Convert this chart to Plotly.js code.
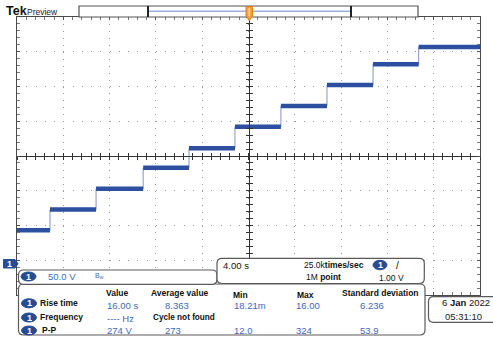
<!DOCTYPE html>
<html><head><meta charset="utf-8">
<script src="https://cdn.plot.ly/plotly-3.0.1.min.js"></script>
<style>html,body{margin:0;padding:0;background:#fff;}#chart{width:493px;height:338px;}</style>
</head><body><div id="chart"></div>
<script>
const stepTimes = [-20, -17.15, -13.17, -9.10, -5.14, -1.17, 2.80, 6.78, 10.76, 14.70, 20]; // s
const stepLevels = [48, 78, 108, 138, 166, 197, 227, 257, 287, 312];                          // V
const timeRange = [-20, 20];   // 4.00 s/div, 10 div
const voltRange = [-45, 355];  // 50.0 V/div, 8 div
const voltCenter = 155;
const measHeaders = ['Value', 'Average value', 'Min', 'Max', 'Standard deviation'];
const measNames = ['Rise time', 'Frequency', 'P-P'];
const riseRow = ['16.00 s', '8.363', '18.21m', '16.00', '6.236'];
const freqRow = ['---- Hz', 'Cycle not found'];
const ppRow = ['274 V', '273', '12.0', '324', '53.9'];
const chScale = '50.0 V';
const timeScale = '4.00 s';
const sampleRate = '25.0k<b>times/sec</b>';
const recordLen = '1M <b>point</b>';
const trigLevel = '1.00 V';
const dateText = '6 <b>Jan</b> 2022';
const timeText = '05:31:10';

// ---- geometry helpers (layout decorations only) ----
const L = 17, R = 480, T = 17, B = 295;
const PW = R - L, PH = B - T;
const px = x => (x - L) / PW;
const py = y => (B - y) / PH;
const FONT = 'Liberation Sans, Arial, sans-serif';
const BLUE = '#4169b8', BADGE = '#284c93', EDGE = '#5a5a5a';

function rrect(x0, y0, x1, y1, r, fill, line) {
  const a = px(x0), b = px(x1), c = py(y0), d = py(y1);
  const rx = r / PW, ry = r / PH;
  const p = `M${a + rx},${c} L${b - rx},${c} Q${b},${c} ${b},${c - ry} L${b},${d + ry} Q${b},${d} ${b - rx},${d} L${a + rx},${d} Q${a},${d} ${a},${d + ry} L${a},${c - ry} Q${a},${c} ${a + rx},${c} Z`;
  return {type: 'path', xref: 'paper', yref: 'paper', path: p, fillcolor: fill || '#fff', line: {color: line || EDGE, width: 1.2}};
}
function seg(x0, y0, x1, y1, color, w) {
  return {type: 'line', xref: 'paper', yref: 'paper', x0: px(x0), y0: py(y0), x1: px(x1), y1: py(y1), line: {color: color, width: w}};
}
function poly(pts, fill, line) {
  const p = 'M' + pts.map(q => px(q[0]) + ',' + py(q[1])).join(' L') + ' Z';
  return {type: 'path', xref: 'paper', yref: 'paper', path: p, fillcolor: fill, line: {color: line, width: 1}};
}
function badge(cx, cy, w, h) {
  return {type: 'circle', xref: 'paper', yref: 'paper', x0: px(cx - w / 2), x1: px(cx + w / 2), y0: py(cy + h / 2), y1: py(cy - h / 2), fillcolor: BADGE, line: {color: BADGE, width: 1}};
}
function ann(text, x, y, size, color, xanchor, extra) {
  return Object.assign({text: text, xref: 'paper', yref: 'paper', x: px(x), y: py(y), xanchor: xanchor || 'left', yanchor: 'middle', showarrow: false, font: {family: FONT, size: size, color: color || '#111'}}, extra || {});
}

// ---- traces ----
const segX = [], segY = [];
stepLevels.forEach((v, i) => { segX.push(stepTimes[i], stepTimes[i + 1], null); segY.push(v, v, null); });
const traces = [
  {x: stepTimes, y: stepLevels.concat([stepLevels[stepLevels.length - 1]]), mode: 'lines', line: {shape: 'hv', color: '#8193c6', width: 1}, hoverinfo: 'skip'},
  {x: segX, y: segY, mode: 'lines', line: {color: '#2c4f9f', width: 4.5}, connectgaps: false, hoverinfo: 'skip'},
  {x: [stepTimes[0]], y: [stepLevels[0]], xaxis: 'x2', yaxis: 'y', mode: 'markers', marker: {opacity: 0}, hoverinfo: 'skip'},
  {x: [stepTimes[0]], y: [stepLevels[0]], xaxis: 'x3', yaxis: 'y', mode: 'markers', marker: {opacity: 0}, hoverinfo: 'skip'},
  {x: [stepTimes[0]], y: [stepLevels[0]], xaxis: 'x', yaxis: 'y2', mode: 'markers', marker: {opacity: 0}, hoverinfo: 'skip'},
  {x: [stepTimes[0]], y: [stepLevels[0]], xaxis: 'x', yaxis: 'y3', mode: 'markers', marker: {opacity: 0}, hoverinfo: 'skip'}
];

const xdiv = (timeRange[1] - timeRange[0]) / 10, ydiv = (voltRange[1] - voltRange[0]) / 8;
const centerAxisX = {overlaying: 'x', anchor: 'free', position: 0.5, range: timeRange, showgrid: false, zeroline: false,
  showticklabels: false, dtick: xdiv / 5, tick0: 0, ticklen: 3, tickcolor: '#333', tickwidth: 1};
const centerAxisY = {overlaying: 'y', anchor: 'free', position: 0.5, side: 'left', range: voltRange, showgrid: false, zeroline: false,
  showticklabels: false, dtick: ydiv / 5, tick0: voltCenter, ticklen: 3, tickcolor: '#333', tickwidth: 1};

const layout = {
  width: 493, height: 338,
  margin: {l: L, r: 493 - R, t: T, b: 338 - B, pad: 0},
  paper_bgcolor: '#fff', plot_bgcolor: '#fff', showlegend: false,
  xaxis: {range: timeRange, dtick: xdiv, tick0: 0, showgrid: true, gridcolor: '#9a9a9a', gridwidth: 1, griddash: '1px,5.95px',
    zeroline: false, showline: true, linecolor: '#4a4a4a', linewidth: 1, mirror: 'allticks', ticks: 'inside', ticklen: 3, tickcolor: '#555',
    minor: {ticks: 'inside', ticklen: 3, dtick: xdiv / 5, tick0: 0, tickcolor: '#777', showgrid: false}, showticklabels: false},
  yaxis: {range: voltRange, dtick: ydiv, tick0: voltCenter, showgrid: true, gridcolor: '#9a9a9a', gridwidth: 1, griddash: '1px,8.26px',
    zeroline: false, showline: true, linecolor: '#4a4a4a', linewidth: 1, mirror: 'allticks', ticks: 'inside', ticklen: 3, tickcolor: '#555',
    minor: {ticks: 'inside', ticklen: 3, dtick: ydiv / 5, tick0: voltCenter, tickcolor: '#777', showgrid: false}, showticklabels: false},
  xaxis2: Object.assign({}, centerAxisX, {showline: true, linecolor: '#333', linewidth: 1, ticks: 'outside'}),
  xaxis3: Object.assign({}, centerAxisX, {showline: false, ticks: 'inside'}),
  yaxis2: Object.assign({}, centerAxisY, {showline: true, linecolor: '#333', linewidth: 1, ticks: 'outside'}),
  yaxis3: Object.assign({}, centerAxisY, {showline: false, ticks: 'inside'}),
  shapes: [
    // record view bar
    {type: 'rect', xref: 'paper', yref: 'paper', x0: px(79), x1: px(418), y0: py(17), y1: py(6), fillcolor: '#fff', line: {color: '#555', width: 1.2}},
    seg(148, 11.3, 351, 11.3, '#9cb0dd', 1.6),
    seg(148, 6, 148, 17, '#222', 2),
    seg(351, 6, 351, 17, '#222', 2),
    // trigger position marker
    poly([[246, 6.5], [252.5, 6.5], [252.5, 16], [249.25, 20.5], [246, 16]], '#f5a042', '#e0800f'),
    seg(249.25, 8, 249.25, 16, '#fbd7a8', 1.5),
    // ground marker
    poly([[3.5, 259.5], [15, 259.5], [18, 263.8], [15, 268], [3.5, 268]], BADGE, BADGE),
    // info boxes
    rrect(18.5, 284, 425, 335, 5),
    rrect(18.5, 270, 217, 284.3, 5),
    rrect(217, 258.3, 424.3, 283.5, 5),
    rrect(428.5, 296.7, 500, 322.3, 5),
    // badges
    badge(28.5, 276.5, 15, 9),
    badge(380, 265, 14, 9.5),
    badge(29, 303.3, 15, 9),
    badge(29, 317.5, 15, 9),
    badge(29, 330.5, 15, 9)
  ],
  annotations: [
    ann('<b>Tek</b>', 3.5, 11.5, 12.5, '#111'),
    ann('Preview', 25, 12.3, 8.5, '#222'),
    ann('<b>1</b>', 9.5, 263.8, 9, '#fff', 'center'),
    ann('<b>1</b>', 28.5, 276.5, 9, '#fff', 'center'),
    ann(chScale, 46, 276.5, 9.5, BLUE),
    ann('B<sub>w</sub>', 93, 275.5, 7, BLUE),
    ann(timeScale, 221, 265.8, 9.5, '#111'),
    ann(sampleRate, 302, 265, 8.5, '#111'),
    ann(recordLen, 304, 276.5, 8.5, '#111'),
    ann('<b>1</b>', 380, 265, 9, '#fff', 'center'),
    ann('/', 394, 265, 10, '#111'),
    ann(trigLevel, 377, 277.5, 8.5, '#111'),
    // measurement table headers
    ann('<b>' + measHeaders[0] + '</b>', 117, 293.3, 8.5, '#111', 'center'),
    ann('<b>' + measHeaders[1] + '</b>', 179.5, 293.3, 8.5, '#111', 'center'),
    ann('<b>' + measHeaders[2] + '</b>', 240.5, 294.5, 8.5, '#111', 'center'),
    ann('<b>' + measHeaders[3] + '</b>', 305.5, 294.5, 8.5, '#111', 'center'),
    ann('<b>' + measHeaders[4] + '</b>', 380.5, 293.3, 8.5, '#111', 'center'),
    // row badges and names
    ann('<b>1</b>', 29, 303.3, 9, '#fff', 'center'),
    ann('<b>1</b>', 29, 317.5, 9, '#fff', 'center'),
    ann('<b>1</b>', 29, 330.5, 9, '#fff', 'center'),
    ann('<b>' + measNames[0] + '</b>', 37.5, 302.7, 8.5, '#111'),
    ann('<b>' + measNames[1] + '</b>', 37.5, 316.7, 8.5, '#111'),
    ann('<b>' + measNames[2] + '</b>', 40, 330, 8.5, '#111'),
    // row values
    ann(riseRow[0], 105, 305, 9.5, BLUE),
    ann(riseRow[1], 163, 305, 9.5, BLUE),
    ann(riseRow[2], 232, 305, 9.5, BLUE),
    ann(riseRow[3], 294, 305, 9.5, BLUE),
    ann(riseRow[4], 358, 305, 9.5, BLUE),
    ann(freqRow[0], 105, 318.5, 9.5, BLUE),
    ann('<b>' + freqRow[1] + '</b>', 151, 317, 8.2, '#111'),
    ann(ppRow[0], 105, 330.5, 9.5, BLUE),
    ann(ppRow[1], 163, 330.5, 9.5, BLUE),
    ann(ppRow[2], 232, 330.5, 9.5, BLUE),
    ann(ppRow[3], 294, 330.5, 9.5, BLUE),
    ann(ppRow[4], 358, 330.5, 9.5, BLUE),
    // date box
    ann(dateText, 492, 302.5, 9.5, '#111', 'right'),
    ann(timeText, 443, 316, 9.5, '#222')
  ]
};

Plotly.newPlot('chart', traces, layout, {staticPlot: true, displayModeBar: false});
</script></body></html>
